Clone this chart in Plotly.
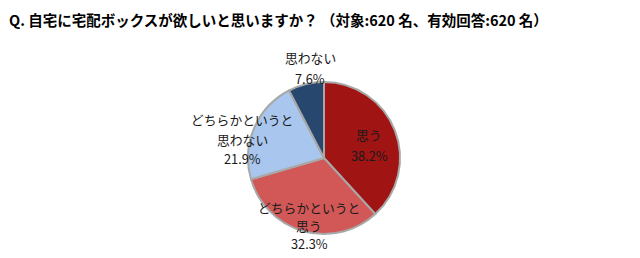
import plotly.graph_objects as go

categories = ["思う", "どちらかというと思う", "どちらかというと思わない", "思わない"]
values = [38.2, 32.3, 21.9, 7.6]
label_lines = [["思う", "38.2%"], ["どちらかというと", "思う", "32.3%"],
               ["どちらかというと", "思わない", "21.9%"], ["思わない", "7.6%"]]
colors = ["#A01414", "#D25858", "#A9C7EE", "#27476E"]
# label line centres (x, first-line y, line step) in pixels
label_pos = [(369, 134, 21), (309, 207, 18), (242, 120, 19), (310, 58, 20)]

W, H = 640, 258
cx, cy, r = 324, 158, 76

fig = go.Figure(go.Pie(
    labels=categories, values=values, sort=False, direction="clockwise", rotation=0,
    marker=dict(colors=colors, line=dict(color="#A8A8A8", width=2)),
    textinfo="none", hoverinfo="label+percent", showlegend=False,
    domain=dict(x=[(cx - r) / W, (cx + r) / W], y=[(H - cy - r) / H, (H - cy + r) / H]),
))

for lines, (x, y0, step) in zip(label_lines, label_pos):
    for i, txt in enumerate(lines):
        fig.add_annotation(x=x / W, y=1 - (y0 + i * step) / H, xref="paper", yref="paper", text=txt,
                           showarrow=False, xanchor="center", yanchor="middle",
                           font=dict(family="Noto Sans CJK JP", size=12.8, color="#1a1a1a"))

fig.add_annotation(x=7 / W, y=1 - 19 / H, xref="paper", yref="paper",
                   text="<b>Q. 自宅に宅配ボックスが欲しいと思いますか？ （対象:620 名、有効回答:620 名）</b>",
                   showarrow=False, xanchor="left", yanchor="middle",
                   font=dict(family="Noto Sans CJK JP", size=14.5, color="#000000"))

fig.update_layout(width=W, height=H, margin=dict(l=0, r=0, t=0, b=0),
                  paper_bgcolor="white", plot_bgcolor="white")
fig.write_html("out.html")
